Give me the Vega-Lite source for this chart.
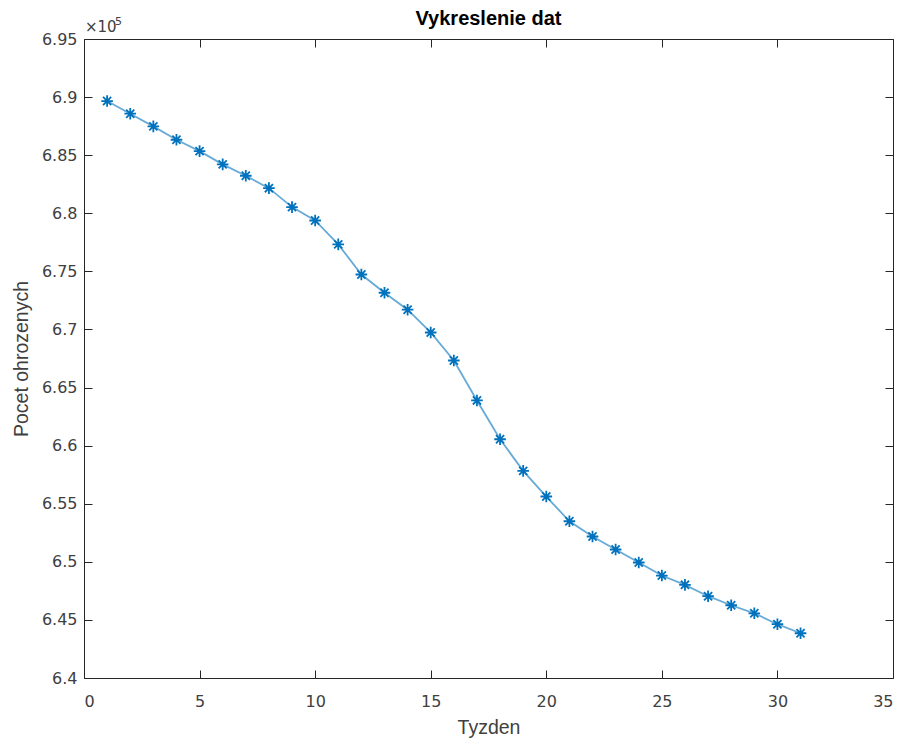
{
  "$schema": "https://vega.github.io/schema/vega-lite/v6.json",
  "width": 809,
  "height": 639,
  "autosize": {"type": "none"},
  "padding": {"left": 84, "top": 39, "right": 14, "bottom": 60},
  "background": "white",
  "config": {
    "view": {"stroke": "#262626", "strokeWidth": 1},
    "font": "Liberation Sans",
    "axis": {
      "domain": false,
      "grid": false,
      "tickColor": "#262626",
      "tickSize": -8,
      "tickWidth": 1,
      "labelColor": "#404040",
      "labelFont": "DejaVu Sans",
      "labelFontSize": 16,
      "titleColor": "#404040",
      "titleFont": "Liberation Sans",
      "titleFontSize": 19.5,
      "titleFontWeight": "normal"
    }
  },
  "title": {
    "text": "Vykreslenie dat",
    "font": "Liberation Sans",
    "fontSize": 20,
    "fontWeight": "bold",
    "color": "#000000",
    "anchor": "middle",
    "offset": -13
  },
  "data": {
    "values": [
      {"Tyzden": 1, "Pocet": 689660},
      {"Tyzden": 2, "Pocet": 688570},
      {"Tyzden": 3, "Pocet": 687480},
      {"Tyzden": 4, "Pocet": 686330},
      {"Tyzden": 5, "Pocet": 685350},
      {"Tyzden": 6, "Pocet": 684210},
      {"Tyzden": 7, "Pocet": 683230},
      {"Tyzden": 8, "Pocet": 682160},
      {"Tyzden": 9, "Pocet": 680530},
      {"Tyzden": 10, "Pocet": 679380},
      {"Tyzden": 11, "Pocet": 677320},
      {"Tyzden": 12, "Pocet": 674730},
      {"Tyzden": 13, "Pocet": 673160},
      {"Tyzden": 14, "Pocet": 671700},
      {"Tyzden": 15, "Pocet": 669740},
      {"Tyzden": 16, "Pocet": 667330},
      {"Tyzden": 17, "Pocet": 663890},
      {"Tyzden": 18, "Pocet": 660550},
      {"Tyzden": 19, "Pocet": 657830},
      {"Tyzden": 20, "Pocet": 655620},
      {"Tyzden": 21, "Pocet": 653490},
      {"Tyzden": 22, "Pocet": 652180},
      {"Tyzden": 23, "Pocet": 651060},
      {"Tyzden": 24, "Pocet": 649940},
      {"Tyzden": 25, "Pocet": 648820},
      {"Tyzden": 26, "Pocet": 648020},
      {"Tyzden": 27, "Pocet": 647040},
      {"Tyzden": 28, "Pocet": 646260},
      {"Tyzden": 29, "Pocet": 645570},
      {"Tyzden": 30, "Pocet": 644630},
      {"Tyzden": 31, "Pocet": 643850}
    ]
  },
  "layer": [
    {
      "mark": {"type": "line", "color": "#0072BD", "strokeWidth": 1.8, "opacity": 0.6},
      "encoding": {
        "x": {
          "field": "Tyzden", "type": "quantitative",
          "scale": {"domain": [0, 35], "nice": false, "zero": false},
          "axis": {"orient": "bottom", "values": [0, 5, 10, 15, 20, 25, 30, 35], "title": "Tyzden", "labelPadding": 23, "titlePadding": 9}
        },
        "y": {
          "field": "Pocet", "type": "quantitative",
          "scale": {"domain": [640000, 695000], "nice": false, "zero": false},
          "axis": {
            "orient": "left",
            "values": [640000, 645000, 650000, 655000, 660000, 665000, 670000, 675000, 680000, 685000, 690000, 695000],
            "labelExpr": "format(datum.value / 100000, '.3~g')",
            "title": "Pocet ohrozenych",
            "labelPadding": 15,
            "titlePadding": 10
          }
        }
      }
    },
    {
      "mark": {
        "type": "point",
        "shape": "M-1,0L1,0M0,-1L0,1M-0.7,-0.7L0.7,0.7M-0.7,0.7L0.7,-0.7",
        "filled": false,
        "color": "#0072BD",
        "strokeWidth": 1.8,
        "size": 135,
        "opacity": 1
      },
      "encoding": {
        "x": {
          "field": "Tyzden", "type": "quantitative",
          "axis": {"orient": "top", "values": [0, 5, 10, 15, 20, 25, 30, 35], "labels": false, "title": null}
        },
        "y": {
          "field": "Pocet", "type": "quantitative",
          "axis": {
            "orient": "right",
            "values": [640000, 645000, 650000, 655000, 660000, 665000, 670000, 675000, 680000, 685000, 690000, 695000],
            "labels": false, "title": null
          }
        }
      }
    },
    {
      "data": {"values": [{"Tyzden": 0, "Pocet": 695000, "label": "×10"}]},
      "mark": {"type": "text", "align": "left", "baseline": "alphabetic", "dy": -7, "dx": 1, "fontSize": 15, "color": "#404040", "font": "DejaVu Sans"},
      "encoding": {
        "x": {"field": "Tyzden", "type": "quantitative", "axis": null},
        "y": {"field": "Pocet", "type": "quantitative", "axis": null},
        "text": {"field": "label"}
      }
    },
    {
      "data": {"values": [{"Tyzden": 0, "Pocet": 695000, "label": "5"}]},
      "mark": {"type": "text", "align": "left", "baseline": "alphabetic", "dy": -14, "dx": 31, "fontSize": 11, "color": "#404040", "font": "DejaVu Sans"},
      "encoding": {
        "x": {"field": "Tyzden", "type": "quantitative", "axis": null},
        "y": {"field": "Pocet", "type": "quantitative", "axis": null},
        "text": {"field": "label"}
      }
    }
  ],
  "resolve": {"axis": {"x": "independent", "y": "independent"}}
}
